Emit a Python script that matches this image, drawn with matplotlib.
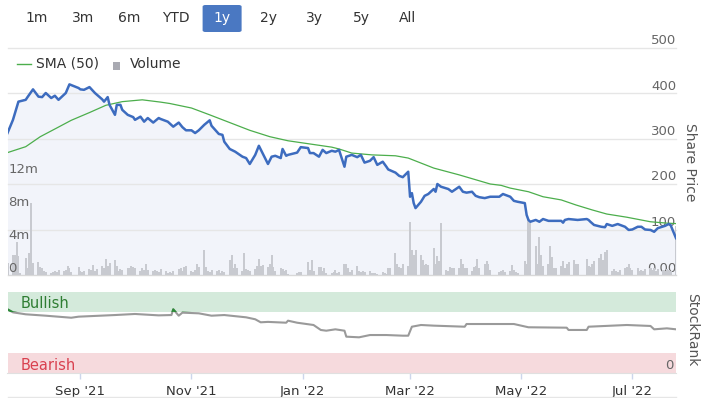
import numpy as np
import pandas as pd
import matplotlib
matplotlib.use('Agg')
import matplotlib.pyplot as plt
import matplotlib.transforms as mtransforms
from matplotlib.lines import Line2D
from matplotlib.patches import Rectangle, FancyBboxPatch

plt.rcParams.update({'font.family': 'DejaVu Sans', 'font.size': 10})

# ---- data ----
range_buttons = ['1m', '3m', '6m', 'YTD', '1y', '2y', '3y', '5y', 'All']
active_button = '1y'

price_dates = [
    '2021-07-23', '2021-07-26', '2021-07-29', '2021-08-02', '2021-08-03', '2021-08-06', '2021-08-09',
    '2021-08-11', '2021-08-13', '2021-08-16', '2021-08-18', '2021-08-20', '2021-08-24', '2021-08-26',
    '2021-08-31', '2021-09-01', '2021-09-03', '2021-09-06', '2021-09-09', '2021-09-13', '2021-09-14',
    '2021-09-16', '2021-09-17', '2021-09-20', '2021-09-21', '2021-09-23', '2021-09-24', '2021-09-27',
    '2021-09-30', '2021-10-01', '2021-10-04', '2021-10-06', '2021-10-08', '2021-10-11', '2021-10-14',
    '2021-10-15', '2021-10-19', '2021-10-22', '2021-10-25', '2021-10-27', '2021-10-29', '2021-11-01',
    '2021-11-03', '2021-11-05', '2021-11-08', '2021-11-11', '2021-11-12', '2021-11-16', '2021-11-18',
    '2021-11-19', '2021-11-22', '2021-11-25', '2021-11-29', '2021-12-01', '2021-12-03', '2021-12-06',
    '2021-12-08', '2021-12-10', '2021-12-13', '2021-12-15', '2021-12-17', '2021-12-20', '2021-12-21',
    '2021-12-23', '2021-12-24', '2021-12-29', '2021-12-31', '2022-01-04', '2022-01-05', '2022-01-07',
    '2022-01-10', '2022-01-12', '2022-01-14', '2022-01-17', '2022-01-19', '2022-01-21', '2022-01-24',
    '2022-01-25', '2022-01-28', '2022-01-31', '2022-02-02', '2022-02-04', '2022-02-07', '2022-02-09',
    '2022-02-11', '2022-02-14', '2022-02-16', '2022-02-17', '2022-02-21', '2022-02-23', '2022-02-25',
    '2022-02-28', '2022-03-01', '2022-03-02', '2022-03-03', '2022-03-04', '2022-03-07', '2022-03-09',
    '2022-03-11', '2022-03-14', '2022-03-15', '2022-03-16', '2022-03-18', '2022-03-22', '2022-03-24',
    '2022-03-28', '2022-03-30', '2022-04-01', '2022-04-04', '2022-04-06', '2022-04-08', '2022-04-11',
    '2022-04-14', '2022-04-19', '2022-04-21', '2022-04-25', '2022-04-27', '2022-04-29', '2022-05-03',
    '2022-05-04', '2022-05-05', '2022-05-06', '2022-05-09', '2022-05-11', '2022-05-13', '2022-05-16',
    '2022-05-19', '2022-05-23', '2022-05-24', '2022-05-25', '2022-05-27', '2022-06-01', '2022-06-06',
    '2022-06-07', '2022-06-08', '2022-06-10', '2022-06-14', '2022-06-16', '2022-06-17', '2022-06-20',
    '2022-06-23', '2022-06-27', '2022-06-29', '2022-07-01', '2022-07-04', '2022-07-06', '2022-07-08',
    '2022-07-11', '2022-07-13', '2022-07-15', '2022-07-19', '2022-07-21', '2022-07-22', '2022-07-25',
]
price_vals = [
    312, 341, 381, 385, 391, 408, 392,
    391, 400, 389, 394, 385, 400, 419,
    411, 408, 407, 413, 400, 386, 381,
    391, 374, 352, 374, 374, 363, 352,
    347, 341, 348, 337, 345, 335, 345,
    343, 337, 326, 335, 325, 318, 318,
    312, 318, 330, 340, 328, 310, 308,
    293, 277, 271, 260, 257, 244, 264,
    284, 268, 244, 260, 262, 257, 277,
    262, 264, 269, 281, 279, 268, 268,
    260, 275, 268, 273, 271, 275, 238,
    260, 264, 259, 264, 247, 251, 259,
    242, 249, 238, 232, 225, 218, 215,
    227, 172, 180, 158, 147, 161, 174,
    178, 189, 183, 200, 194, 189, 183,
    194, 183, 181, 183, 174, 171, 169,
    172, 172, 178, 172, 163, 161, 158,
    132, 121, 117, 121, 117, 123, 119,
    119, 119, 115, 121, 123, 121, 123,
    121, 117, 110, 106, 105, 112, 108,
    112, 106, 99, 100, 106, 106, 100,
    99, 95, 103, 108, 112, 110, 81,
]

sma_dates = [
    '2021-07-23', '2021-08-02', '2021-08-10', '2021-08-19', '2021-08-27', '2021-09-06', '2021-09-15',
    '2021-09-24', '2021-10-05', '2021-10-15', '2021-10-20', '2021-11-01', '2021-11-11', '2021-11-22',
    '2021-12-03', '2021-12-14', '2021-12-24', '2022-01-05', '2022-01-17', '2022-01-21', '2022-01-28',
    '2022-02-08', '2022-02-21', '2022-02-28', '2022-03-14', '2022-03-28', '2022-04-14', '2022-04-20',
    '2022-04-25', '2022-05-05', '2022-05-13', '2022-05-23', '2022-05-31', '2022-06-09', '2022-06-17',
    '2022-06-28', '2022-07-11', '2022-07-20', '2022-07-25',
]
sma_vals = [
    269, 282, 304, 323, 340, 357, 373,
    381, 385, 380, 377, 367, 352, 335,
    318, 304, 295, 288, 281, 277, 268,
    264, 262, 257, 235, 220, 200, 197,
    191, 183, 172, 165, 154, 143, 134,
    127, 117, 114, 113,
]

rank_dates = [
    '2021-07-23', '2021-07-26', '2021-08-02', '2021-08-13', '2021-08-27', '2021-08-31', '2021-09-20',
    '2021-10-01', '2021-10-14', '2021-10-21', '2021-10-22', '2021-10-25', '2021-10-27', '2021-11-05',
    '2021-11-12', '2021-11-19', '2021-12-01', '2021-12-06', '2021-12-09', '2021-12-13', '2021-12-23',
    '2021-12-24', '2021-12-29', '2022-01-07', '2022-01-11', '2022-01-14', '2022-01-19', '2022-01-24',
    '2022-01-25', '2022-02-01', '2022-02-07', '2022-02-16', '2022-02-25', '2022-02-28', '2022-03-02',
    '2022-03-07', '2022-03-14', '2022-03-31', '2022-04-01', '2022-04-27', '2022-05-05', '2022-05-26',
    '2022-05-27', '2022-06-06', '2022-06-07', '2022-06-28', '2022-07-11', '2022-07-13', '2022-07-20',
    '2022-07-25',
]
rank_vals = [
    78.4, 74.7, 72.3, 70.6, 68.1, 69.4, 71.4,
    72.7, 71.0, 71.4, 78.4, 70.6, 74.3, 73.5,
    70.6, 71.4, 68.6, 66.2, 62.5, 63.0, 62.0,
    64.5, 62.0, 59.2, 53.1, 52.2, 53.9, 52.2,
    44.9, 44.1, 46.9, 46.9, 46.1, 46.1, 57.1,
    59.2, 58.4, 57.1, 60.4, 60.4, 56.4, 55.9,
    53.1, 53.1, 57.1, 59.2, 58.0, 53.9, 55.1,
    53.9,
]
bullish_level = 75

uk_holidays = ['2021-08-30', '2021-12-27', '2021-12-28', '2022-01-03', '2022-04-15',
               '2022-04-18', '2022-05-02', '2022-06-02', '2022-06-03']

# daily volume in millions, one value per trading day
volume_m = [
    1.5, 2.4, 2.4, 4.0, 2.3, 0.3,                                   # Jul 21
    2.1, 0.9, 2.7, 8.8, 1.5, 1.6, 1.0, 0.8, 0.5, 0.4,               # Aug
    0.3, 0.4, 0.5, 0.4, 0.6, 0.5, 0.6, 1.1, 0.9, 0.4, 1.0,
    0.5, 0.4, 0.5, 0.7, 0.6, 1.2, 0.5, 0.7, 1.1, 0.9, 2.0,          # Sep
    1.1, 1.5, 1.8, 1.1, 0.5, 0.7, 0.6, 0.8, 0.9, 1.1, 1.0,
    0.8, 0.5, 0.9, 0.6, 1.3, 0.6, 0.5, 0.6, 0.45, 0.4, 0.7,         # Oct
    0.5, 0.3, 0.4, 0.3, 0.45, 0.7, 0.8, 0.5, 1.0, 1.1,
    0.5, 0.4, 0.6, 1.3, 1.0, 3.1, 1.0, 0.5, 0.4, 0.6, 0.5,          # Nov
    0.6, 0.3, 0.5, 0.4, 1.8, 2.4, 0.9, 1.3, 0.9, 0.5, 2.7,
    0.7, 0.6, 0.5, 0.7, 1.1, 2.0, 1.1, 1.2, 1.0, 1.3, 2.4,          # Dec
    1.0, 0.5, 0.9, 0.7, 0.5, 0.6, 0.1, 0.3, 0.4, 0.4,
    1.6, 0.6, 1.8, 0.5, 1.0, 1.0, 0.5, 0.9, 0.3, 0.2,               # Jan 22
    0.4, 0.6, 0.2, 0.4, 1.4, 1.4, 0.9, 0.4, 0.6, 1.1,
    0.5, 0.4, 0.5, 0.4, 0.5, 0.2, 0.3, 0.2, 0.15, 0.4,              # Feb
    0.3, 0.15, 0.8, 0.9, 2.7, 1.4, 1.0, 0.9, 1.3, 1.1,
    6.5, 3.0, 2.5, 3.1, 2.5, 1.8, 1.2, 1.3, 1.2, 3.3, 1.4, 2.3,     # Mar
    1.7, 6.4, 0.6, 0.5, 1.0, 0.8, 0.8, 0.9, 2.0, 1.3, 0.9,
    0.8, 0.5, 1.0, 1.1, 1.9, 0.9, 1.3, 1.7, 1.3, 0.6,               # Apr
    0.4, 0.5, 0.6, 0.4, 0.5, 1.2, 0.6, 0.4, 0.3,
    1.7, 1.4, 7.0, 6.4, 3.6, 1.3, 4.7, 2.5, 1.1, 1.3, 3.5,          # May
    2.2, 0.9, 0.8, 1.1, 1.7, 0.9, 1.3, 1.6, 1.8, 1.4,
    1.3, 1.9, 1.1, 1.0, 1.3, 1.7, 2.1, 2.6, 1.8, 2.8,               # Jun
    3.0, 0.5, 0.7, 0.5, 0.4, 0.6, 0.8, 1.0, 1.3, 0.9,
    0.6, 0.8, 0.5, 0.6, 0.5, 0.7, 0.9, 0.6, 0.8,                    # Jul 22
    0.5, 0.7, 0.6, 0.5, 0.7, 0.6, 0.5, 6.0,
]

price_ticks = [0, 100, 200, 300, 400, 500]
price_tick_labels = ['0.00', '100', '200', '300', '400', '500']
volume_ticks = [0, 4, 8, 12]
volume_tick_labels = ['0', '4m', '8m', '12m']
month_ticks = ['2021-09-01', '2021-11-01', '2022-01-01', '2022-03-01', '2022-05-01', '2022-07-01']
month_labels = ["Sep '21", "Nov '21", "Jan '22", "Mar '22", "May '22", "Jul '22"]

# ---- styles ----
BLUE = '#3d6cbf'
GREEN = '#4cae4c'
GRID = '#e6e6e6'
LABEL = '#666666'
TEXT = '#333333'

trade_days = pd.bdate_range('2021-07-23', '2022-07-25', freq='C', holidays=uk_holidays)
assert len(trade_days) == len(volume_m), (len(trade_days), len(volume_m))

p_d = pd.to_datetime(price_dates)
s_d = pd.to_datetime(sma_dates)
r_d = pd.to_datetime(rank_dates)
x0, x1 = pd.Timestamp('2021-07-23'), pd.Timestamp('2022-07-25')

W, H = 712, 398
fig = plt.figure(figsize=(W / 100, H / 100), dpi=100)


def box(l, t, r, b):
    return [l / W, 1 - b / H, (r - l) / W, (b - t) / H]


# ---- price pane ----
ax = fig.add_axes(box(7.5, 47.5, 676, 275))
axv = ax.twinx()
axl = ax.twinx()

ax.fill_between(p_d, price_vals, 0, color='#f2f4fa', lw=0)
for v in price_ticks[1:]:
    ax.axhline(v, color=GRID, lw=1, clip_on=False)
ax.axhline(0, color='#d8d8d8', lw=1, clip_on=False)
ax.set_ylim(0, 500)

axv.bar(trade_days, volume_m, width=1.1, color='#c8cad0', lw=0)
axv.set_ylim(0, 27.8)

axl.plot(s_d, sma_vals, color=GREEN, lw=0.9)
axl.plot(p_d, price_vals, color=BLUE, lw=1.8, solid_joinstyle='round')
axl.set_ylim(0, 500)

for a in (ax, axv, axl):
    a.set_xlim(x0, x1)
    a.set_yticks([])
    a.set_xticks([])
    for s in a.spines.values():
        s.set_visible(False)

tr_p = mtransforms.offset_copy(ax.get_yaxis_transform(), fig=fig, y=7, units='dots')
for v, lab in zip(price_ticks, price_tick_labels):
    ax.text(1.0, v, lab, transform=tr_p, ha='right', va='center', fontsize=9.5, color=LABEL)

tr_v = mtransforms.offset_copy(axv.get_yaxis_transform(), fig=fig, y=7, units='dots')
for v, lab in zip(volume_ticks, volume_tick_labels):
    axv.text(0.0015, v, lab, transform=tr_v, ha='left', va='center', fontsize=9.5, color=LABEL)

fig.text(690 / W, 1 - 161.7 / H, 'Share Price', rotation=-90, ha='center', va='center',
         fontsize=10, color='#555555')

# legend
fig.add_artist(Line2D([17 / W, 31 / W], [1 - 64 / H] * 2, color=GREEN, lw=1))
fig.text(36 / W, 1 - 63.5 / H, 'SMA (50)', va='center', fontsize=10, color=TEXT)
fig.add_artist(Rectangle((113 / W, 1 - 69.5 / H), 7 / W, 7 / H, color='#a9aab2', lw=0))
fig.text(130 / W, 1 - 63.5 / H, 'Volume', va='center', fontsize=10, color=TEXT)

# range selector
for i, lab in enumerate(range_buttons):
    cx = 36.5 + 46.4 * i
    col = TEXT
    if lab == active_button:
        fig.add_artist(FancyBboxPatch(((cx - 19.5) / W, 1 - 32 / H), 39 / W, 27 / H,
                                      boxstyle='round,pad=0,rounding_size=0.004',
                                      color='#4a78c2', lw=0))
        col = 'white'
    fig.text(cx / W, 1 - 18.3 / H, lab, ha='center', va='center', fontsize=10, color=col)

# ---- StockRank pane ----
axr = fig.add_axes(box(7.5, 291.7, 676, 373.3))
axr.axhspan(75, 100, color='#d4eadb', lw=0)
axr.axhspan(0, 25, color='#f6dadd', lw=0)
axr.plot(r_d, rank_vals, color='#9a9a9a', lw=1.5)
green_part, = axr.plot(r_d, rank_vals, color='#2e8b3a', lw=1.5)
axr.set_ylim(0, 100)
axr.set_xlim(x0, x1)
clip = Rectangle((0, bullish_level), 1, 100 - bullish_level,
                 transform=axr.get_yaxis_transform(), visible=False)
axr.add_patch(clip)
green_part.set_clip_path(clip)

axr.set_yticks([])
axr.set_xticks(pd.to_datetime(month_ticks))
axr.set_xticklabels(month_labels)
axr.tick_params(axis='x', length=4.5, width=1, color='#ccd6eb', pad=4, labelsize=9.5, labelcolor=TEXT)
for k, s in axr.spines.items():
    s.set_visible(k == 'bottom')
axr.spines['bottom'].set_color('#e0e0e0')

axr.text(0.0194, 85, 'Bullish', transform=axr.get_yaxis_transform(), ha='left', va='center',
         fontsize=10.5, color='#2e7d32')
axr.text(0.0194, 9, 'Bearish', transform=axr.get_yaxis_transform(), ha='left', va='center',
         fontsize=10.5, color='#d9414f')
axr.text(0.9964, 9, '0', transform=axr.get_yaxis_transform(), ha='right', va='center',
         fontsize=9.5, color=LABEL)
fig.text(692 / W, 1 - 330 / H, 'StockRank', rotation=-90, ha='center', va='center',
         fontsize=10, color='#555555')

fig.add_artist(Line2D([7.5 / W, 676 / W], [1 - 396.5 / H] * 2, color=GRID, lw=1))

fig.savefig('out.png', dpi=100)
